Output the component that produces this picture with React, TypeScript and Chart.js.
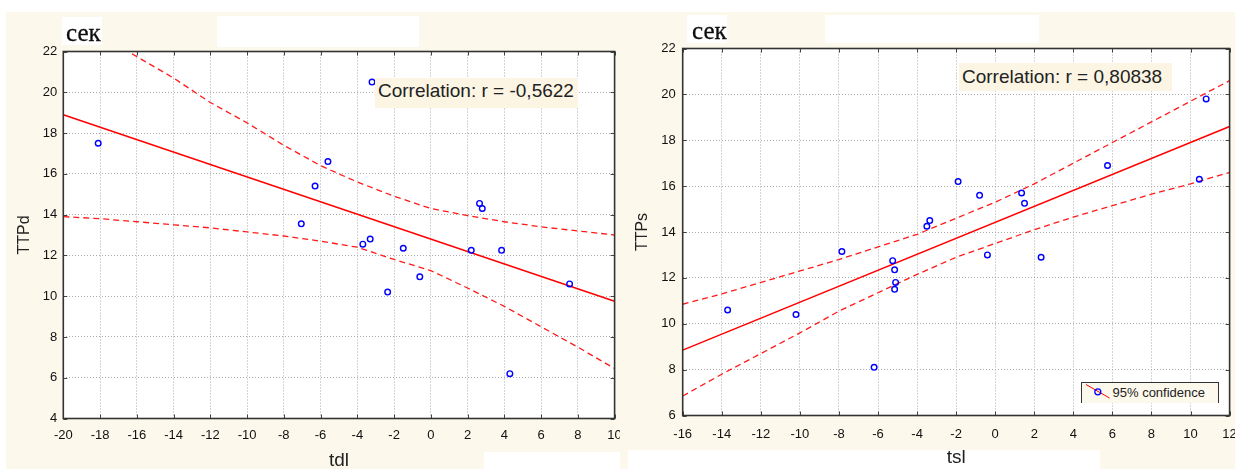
import React, { useEffect, useRef } from "react";
import { Chart, registerables } from "chart.js";

Chart.register(...registerables);

// ---------- Left panel: TTPd vs tdl ----------
const tdl = [-18.1, -7.05, -6.3, -5.6, -3.7, -3.3, -3.2, -2.35, -1.5, -0.6, 2.2, 2.65, 2.8, 3.85, 4.3, 7.55];
const ttpd = [17.5, 13.55, 15.4, 16.6, 12.55, 12.8, 20.5, 10.2, 12.35, 10.95, 12.25, 14.55, 14.3, 12.25, 6.2, 10.6];
const tdlFitX = [-20, 10];
const ttpdFitY = [18.9, 9.75];
const tdlBandX = [-20, -18, -16, -14, -12, -10, -8, -6, -4, -2, 0, 2, 4, 6, 8, 10];
const ttpdUpper = [23.9, 22.8, 21.75, 20.7, 19.5, 18.5, 17.4, 16.4, 15.6, 14.9, 14.3, 13.95, 13.65, 13.4, 13.2, 13.0];
const ttpdLower = [13.9, 13.8, 13.65, 13.5, 13.35, 13.15, 12.95, 12.7, 12.4, 11.8, 11.25, 10.4, 9.5, 8.5, 7.5, 6.45];
const tdlTicks = [-20, -18, -16, -14, -12, -10, -8, -6, -4, -2, 0, 2, 4, 6, 8, 10];
const ttpdTicks = [4, 6, 8, 10, 12, 14, 16, 18, 20, 22];
const leftCorrelation = "Correlation: r = -0,5622";

// ---------- Right panel: TTPs vs tsl ----------
const tsl = [-13.7, -10.2, -7.85, -6.2, -5.25, -5.15, -5.1, -5.15, -3.5, -3.35, -1.9, -0.8, -0.4, 1.35, 1.5, 2.35, 5.75, 10.45, 10.8];
const ttps = [10.6, 10.4, 13.15, 8.1, 12.75, 12.35, 11.8, 11.5, 14.25, 14.5, 16.2, 15.6, 13.0, 15.7, 15.25, 12.9, 16.9, 16.3, 19.8];
const tslFitX = [-16, 12];
const ttpsFitY = [8.85, 18.6];
const tslBandX = [-16, -14, -12, -10, -8, -6, -4, -2, 0, 2, 4, 6, 8, 10, 12];
const ttpsUpper = [10.85, 11.3, 11.8, 12.3, 12.8, 13.35, 13.9, 14.6, 15.3, 16.1, 17.0, 17.9, 18.8, 19.7, 20.6];
const ttpsLower = [6.85, 7.8, 8.7, 9.6, 10.55, 11.35, 12.15, 12.9, 13.5, 14.1, 14.65, 15.15, 15.65, 16.1, 16.6];
const tslTicks = [-16, -14, -12, -10, -8, -6, -4, -2, 0, 2, 4, 6, 8, 10, 12];
const ttpsTicks = [6, 8, 10, 12, 14, 16, 18, 20, 22];
const rightCorrelation = "Correlation: r = 0,80838";
const legendLabel = "95% confidence";
const unitLabel = "сек";

const BG = "#fcf8ec";
const SANS = '"Liberation Sans", Arial, sans-serif';

function pairs(xs: number[], ys: number[]) {
  return xs.map((x, i) => ({ x, y: ys[i] }));
}

const framePlugin = {
  id: "frameTicks",
  beforeDraw(chart: any) {
    const { ctx, chartArea: a } = chart;
    ctx.save();
    ctx.fillStyle = "#ffffff";
    ctx.fillRect(a.left, a.top, a.right - a.left, a.bottom - a.top);
    ctx.restore();
  },
  afterDraw(chart: any) {
    const { ctx, chartArea: a, scales } = chart;
    ctx.save();
    ctx.strokeStyle = "#444";
    ctx.lineWidth = 1;
    ctx.beginPath();
    scales.x.ticks.forEach((t: any) => {
      const px = Math.round(scales.x.getPixelForValue(t.value)) + 0.5;
      ctx.moveTo(px, a.top);
      ctx.lineTo(px, a.top + 4);
      ctx.moveTo(px, a.bottom);
      ctx.lineTo(px, a.bottom - 4);
    });
    scales.y.ticks.forEach((t: any) => {
      const py = Math.round(scales.y.getPixelForValue(t.value)) + 0.5;
      ctx.moveTo(a.left, py);
      ctx.lineTo(a.left + 4, py);
      ctx.moveTo(a.right, py);
      ctx.lineTo(a.right - 4, py);
    });
    ctx.stroke();
    ctx.strokeStyle = "#333";
    ctx.lineWidth = 1.6;
    ctx.strokeRect(a.left, a.top, a.right - a.left, a.bottom - a.top);
    ctx.restore();
  },
};

type PanelSpec = {
  left: number;
  width: number;
  px: number[];
  py: number[];
  fitX: number[];
  fitY: number[];
  bandX: number[];
  upper: number[];
  lower: number[];
  xTicks: number[];
  yTicks: number[];
  xTitle: string;
  yTitle: string;
  pad: { top: number; right: number };
  yAxisWidth: number;
  xAxisHeight: number;
  yTickPad: number;
  xTickPad: number;
  yTitlePad: number;
  xTitlePad: number;
};

function Panel({ spec }: { spec: PanelSpec }) {
  const ref = useRef<HTMLCanvasElement | null>(null);
  useEffect(() => {
    if (!ref.current) return;
    const xMin = spec.xTicks[0];
    const xMax = spec.xTicks[spec.xTicks.length - 1];
    const yMin = spec.yTicks[0];
    const yMax = spec.yTicks[spec.yTicks.length - 1];
    const tickFont = { family: SANS, size: 13 };
    const chart = new Chart(ref.current, {
      type: "scatter",
      data: {
        datasets: [
          {
            data: pairs(spec.px, spec.py),
            pointStyle: "circle",
            pointRadius: 2.8,
            pointBorderWidth: 1.4,
            pointBorderColor: "#0000ff",
            pointBackgroundColor: "rgba(0,0,0,0)",
            showLine: false,
          },
          {
            data: pairs(spec.fitX, spec.fitY),
            showLine: true,
            borderColor: "#ff0000",
            borderWidth: 1.5,
            pointRadius: 0,
          },
          {
            data: pairs(spec.bandX, spec.upper),
            showLine: true,
            borderColor: "#ff1a1a",
            borderWidth: 1.3,
            borderDash: [6, 4],
            pointRadius: 0,
          },
          {
            data: pairs(spec.bandX, spec.lower),
            showLine: true,
            borderColor: "#ff1a1a",
            borderWidth: 1.3,
            borderDash: [6, 4],
            pointRadius: 0,
          },
        ],
      } as any,
      options: {
        animation: false,
        responsive: false,
        events: [],
        layout: { padding: { left: 0, top: spec.pad.top, right: spec.pad.right, bottom: 0 } },
        plugins: { legend: { display: false }, tooltip: { enabled: false } },
        scales: {
          x: {
            type: "linear",
            min: xMin,
            max: xMax,
            afterBuildTicks: (s: any) => {
              s.ticks = spec.xTicks.map((v) => ({ value: v }));
            },
            afterFit: (s: any) => {
              s.height = spec.xAxisHeight;
              s.paddingLeft = 0;
              s.paddingRight = 0;
            },
            grid: { color: "#aaaaaa", lineWidth: 1, drawTicks: false },
            border: { display: false, dash: [1, 2] },
            ticks: {
              autoSkip: false,
              maxRotation: 0,
              padding: spec.xTickPad,
              color: "#111",
              font: tickFont,
            },
            title: {
              display: true,
              text: spec.xTitle,
              color: "#222",
              font: { family: SANS, size: 19 },
              padding: { top: 0, bottom: spec.xTitlePad },
            },
          },
          y: {
            type: "linear",
            min: yMin,
            max: yMax,
            afterBuildTicks: (s: any) => {
              s.ticks = spec.yTicks.map((v) => ({ value: v }));
            },
            afterFit: (s: any) => {
              s.width = spec.yAxisWidth;
              s.paddingTop = 0;
              s.paddingBottom = 0;
            },
            grid: { color: "#aaaaaa", lineWidth: 1, drawTicks: false },
            border: { display: false, dash: [1, 2] },
            ticks: {
              autoSkip: false,
              padding: spec.yTickPad,
              color: "#111",
              font: tickFont,
            },
            title: {
              display: true,
              text: spec.yTitle,
              color: "#222",
              font: { family: SANS, size: 16 },
              padding: { top: spec.yTitlePad, bottom: 0 },
            },
          },
        },
      } as any,
      plugins: [framePlugin],
    });
    return () => chart.destroy();
  }, [spec]);
  return (
    <canvas
      ref={ref}
      width={spec.width}
      height={469}
      style={{ position: "absolute", left: spec.left, top: 0, width: spec.width, height: 469 }}
    />
  );
}

const leftSpec: PanelSpec = {
  left: 0,
  width: 620,
  px: tdl,
  py: ttpd,
  fitX: tdlFitX,
  fitY: ttpdFitY,
  bandX: tdlBandX,
  upper: ttpdUpper,
  lower: ttpdLower,
  xTicks: tdlTicks,
  yTicks: ttpdTicks,
  xTitle: "tdl",
  yTitle: "TTPd",
  pad: { top: 51.5, right: 5 },
  yAxisWidth: 63.3,
  xAxisHeight: 50.5,
  yTickPad: 6,
  xTickPad: 9,
  yTitlePad: 15,
  xTitlePad: -3.5,
};

const rightSpec: PanelSpec = {
  left: 620,
  width: 615,
  px: tsl,
  py: ttps,
  fitX: tslFitX,
  fitY: ttpsFitY,
  bandX: tslBandX,
  upper: ttpsUpper,
  lower: ttpsLower,
  xTicks: tslTicks,
  yTicks: ttpsTicks,
  xTitle: "tsl",
  yTitle: "TTPs",
  pad: { top: 48.5, right: 5 },
  yAxisWidth: 62.7,
  xAxisHeight: 53.5,
  yTickPad: 7,
  xTickPad: 11,
  yTitlePad: 13,
  xTitlePad: -0.5,
};

function Box(props: { left: number; top: number; width: number; height: number; bg: string }) {
  return (
    <div
      style={{
        position: "absolute",
        left: props.left,
        top: props.top,
        width: props.width,
        height: props.height,
        background: props.bg,
      }}
    />
  );
}

function Unit({ left, top, textLeft }: { left: number; top: number; textLeft: number }) {
  return (
    <div style={{ position: "absolute", left, top, width: 40, height: 28, background: "#ffffff" }}>
      <div
        style={{
          position: "absolute",
          left: textLeft,
          top: 2,
          font: '25px "Liberation Serif", "Times New Roman", serif',
          lineHeight: "28px",
          color: "#0d0d0d",
          whiteSpace: "nowrap",
          WebkitTextStroke: "0.3px #0d0d0d",
        }}
      >
        {unitLabel}
      </div>
    </div>
  );
}

function CorrLabel({ left, top, width, height, lh, text }: { left: number; top: number; width: number; height: number; lh: number; text: string }) {
  return (
    <div
      style={{
        position: "absolute",
        left,
        top,
        width,
        height,
        background: "#fcf5e4",
        font: `19px ${SANS}`,
        lineHeight: `${lh}px`,
        color: "#222",
        whiteSpace: "nowrap",
        paddingLeft: 3,
        boxSizing: "border-box",
      }}
    >
      {text}
    </div>
  );
}

export default function App() {
  useEffect(() => {
    document.body.style.margin = "0";
  }, []);
  return (
    <div
      style={{
        position: "fixed",
        left: 0,
        top: 0,
        width: 1235,
        height: 469,
        overflow: "hidden",
        background: BG,
      }}
    >
      <Box left={0} top={0} width={1235} height={12} bg="#ffffff" />
      <Box left={0} top={0} width={6} height={469} bg="#ffffff" />
      <Box left={217} top={16} width={202} height={31} bg="#ffffff" />
      <Box left={825} top={15} width={214} height={28} bg="#ffffff" />
      <Box left={484} top={452} width={136} height={17} bg="#ffffff" />
      <Box left={628} top={450} width={472} height={19} bg="#ffffff" />
      <Panel spec={leftSpec} />
      <Panel spec={rightSpec} />
      <Unit left={62} top={17} textLeft={4} />
      <Unit left={687} top={15} textLeft={5} />
      <CorrLabel left={375} top={78} width={203} height={30} lh={25} text={leftCorrelation} />
      <CorrLabel left={959} top={63} width={213} height={28} lh={27} text={rightCorrelation} />
      <div
        style={{
          position: "absolute",
          left: 1081,
          top: 382,
          width: 138,
          height: 21,
          boxSizing: "border-box",
          borderTop: "1.5px solid #333",
          borderLeft: "1.5px solid #333",
          borderRight: "1.5px solid #333",
          background: BG,
        }}
      >
        <svg width="32" height="18" style={{ position: "absolute", left: 0, top: 0 }}>
          <line x1="4" y1="1.5" x2="27.5" y2="15" stroke="#ff0000" strokeWidth="1" />
          <circle cx="15.8" cy="8.8" r="3" fill="none" stroke="#0000ff" strokeWidth="1.3" />
        </svg>
        <span
          style={{
            position: "absolute",
            left: 30.5,
            top: 2,
            font: `13px ${SANS}`,
            lineHeight: "15px",
            color: "#222",
            whiteSpace: "nowrap",
          }}
        >
          {legendLabel}
        </span>
      </div>
    </div>
  );
}
